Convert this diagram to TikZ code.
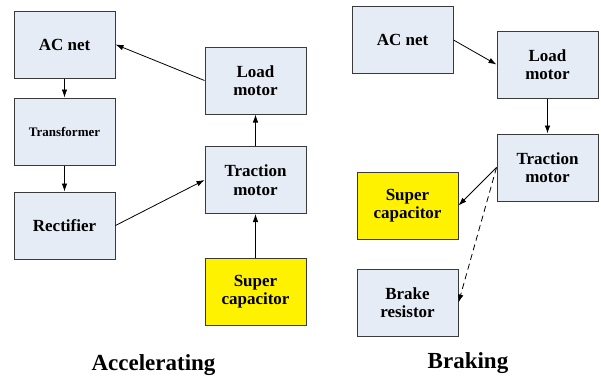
\documentclass[tikz,border=0pt]{standalone}
\usepackage{fontspec}
\setmainfont{Liberation Serif}
\usetikzlibrary{arrows.meta}
\definecolor{boxblue}{HTML}{E6ECF6}
\definecolor{boxline}{HTML}{3A3A3A}

\begin{document}
\begin{tikzpicture}[
    x=1pt, y=-1pt,
    block/.style={draw=boxline, line width=1pt, fill=boxblue,
                  minimum width=101pt, minimum height=67pt,
                  align=center, font=\fontsize{17}{18.5}\selectfont\bfseries},
    store/.style={block, fill=yellow},
    flow/.style={-{Latex[length=8pt,width=5.5pt]}, line width=0.8pt},
    caption/.style={anchor=base, font=\fontsize{23}{26}\selectfont\bfseries}]

\useasboundingbox (0,0) rectangle (601,378);

% accelerating
\node[block] (acA)    at (64.5,44.5)  {AC net};
\node[block, font=\fontsize{13}{15}\selectfont\bfseries]
             (trafoA) at (64.5,131.5) {Transformer};
\node[block] (rectA)  at (64.5,225.5) {Rectifier};
\node[block] (loadA)  at (255.5,80.5) {Load\\motor};
\node[block] (tracA)  at (255.5,180)  {Traction\\motor};
\node[store] (capA)   at (255.5,291.5) {Super\\capacitor};
\node[caption] (accel) at (153.5,370) {Accelerating};

\draw[flow] (loadA.west) -- (acA.east);
\draw[flow] (acA) -- (trafoA);
\draw[flow] (trafoA) -- (rectA);
\draw[flow] (rectA.east) -- (tracA.west);
\draw[flow] (tracA) -- (loadA);
\draw[flow] (capA) -- (tracA);

% braking
\node[block] (acB)    at (402.5,40)    {AC net};
\node[block] (loadB)  at (547.5,64.5)  {Load\\motor};
\node[block] (tracB)  at (547.5,167.5) {Traction\\motor};
\node[store] (capB)   at (407.5,205.5) {Super\\capacitor};
\node[block] (brakeB) at (407.5,302.5) {Brake\\resistor};
\node[caption] (brake) at (468,368) {Braking};

\draw[flow] (acB.east) -- (loadB.west);
\draw[flow] (loadB) -- (tracB);
\draw[flow] (tracB.west) -- (capB.east);
\draw[flow, dashed, dash pattern=on 6pt off 4pt] (tracB.west) -- (brakeB.east);

\end{tikzpicture}
\end{document}
